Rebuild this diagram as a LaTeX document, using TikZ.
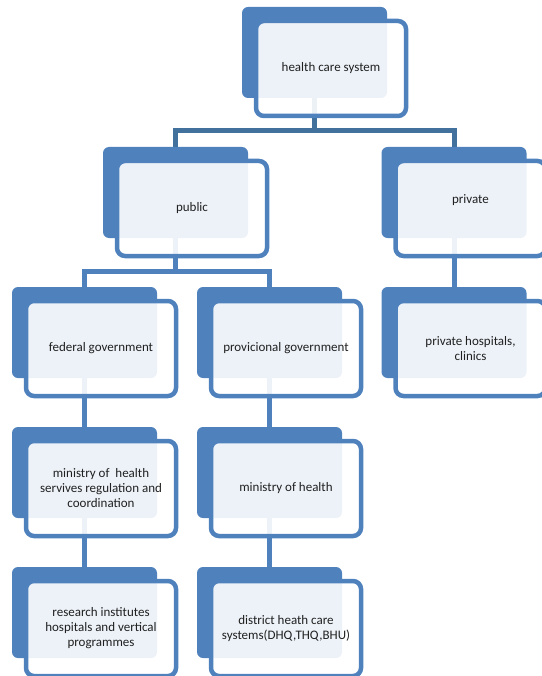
\documentclass[tikz,border=0pt]{standalone}
\usepackage{fontspec}
\setmainfont{Carlito}
\usetikzlibrary{backgrounds}
\definecolor{accent}{HTML}{4F81BD}
\definecolor{linkdark}{HTML}{41719C}
\definecolor{txt}{HTML}{202020}

\begin{document}
\begin{tikzpicture}[x=1pt, y=-1pt]
\tikzset{backbox/.style={rectangle, rounded corners=6pt, fill=accent, minimum width=145pt, minimum height=91pt, inner sep=0pt},
		frontbox/.style={rectangle, rounded corners=8pt, draw=accent, line width=4.5pt, fill=white, fill opacity=0.9, text opacity=1, minimum width=150pt, minimum height=95pt, align=center, text=txt, font=\fontsize{13}{15}\selectfont},
		link/.style={line width=5pt, draw=accent},
		toplink/.style={link, draw=linkdark}}
\useasboundingbox (0,0) rectangle (541,676);
% back boxes
\node[backbox] (hcsb) at (314.5,52.5) {};
\node[backbox] (pubb) at (175.5,192.5) {};
\node[backbox] (prvb) at (454,192.5) {};
\node[backbox] (fedb) at (84.5,332.5) {};
\node[backbox] (provb) at (269.5,332.5) {};
\node[backbox] (phb) at (454,332.5) {};
\node[backbox] (mohfb) at (84.5,472.5) {};
\node[backbox] (mohpb) at (269.5,472.5) {};
\node[backbox] (rib) at (84.5,612.5) {};
\node[backbox] (dhsb) at (269.5,612.5) {};
% front boxes
\node[frontbox] (hcs) at ([shift={(16.5,16)}]hcsb.center) {health care system};
\node[frontbox] (pub) at ([shift={(16.5,16)}]pubb.center) {public};
\node[frontbox] (prv) at ([shift={(16.5,16)}]prvb.center) {\raisebox{8pt}[\height][\depth]{private}};
\node[frontbox] (fed) at ([shift={(16.5,16)}]fedb.center) {federal government};
\node[frontbox] (prov) at ([shift={(16.5,16)}]provb.center) {provicional government};
\node[frontbox] (ph) at ([shift={(16.5,16)}]phb.center) {private hospitals,\\clinics};
\node[frontbox] (mohf) at ([shift={(16.5,16)}]mohfb.center) {ministry of\ \ health\\servives regulation and\\coordination};
\node[frontbox] (mohp) at ([shift={(16.5,16)}]mohpb.center) {ministry of health};
\node[frontbox] (ri) at ([shift={(16.5,16)}]rib.center) {research institutes\\hospitals and vertical\\programmes};
\node[frontbox] (dhs) at ([shift={(16.5,16)}]dhsb.center) {district heath care\\systems(DHQ,THQ,BHU)};
% connectors
\coordinate (split1) at (314.5,131);
\coordinate (split2) at (175.5,271.5);
\begin{scope}[on background layer]
\draw[toplink] (hcsb.center) -- (split1) -| (pubb.center);
\draw[toplink] (split1) -| (prvb.center);
\draw[link] (pubb.center) -- (split2) -| (fedb.center);
\draw[link] (split2) -| (provb.center);
\draw[link] (prvb.center) -- (phb.center);
\draw[link] (fedb.center) -- (mohfb.center);
\draw[link] (mohfb.center) -- (rib.center);
\draw[link] (provb.center) -- (mohpb.center);
\draw[link] (mohpb.center) -- (dhsb.center);
\end{scope}
\end{tikzpicture}
\end{document}
